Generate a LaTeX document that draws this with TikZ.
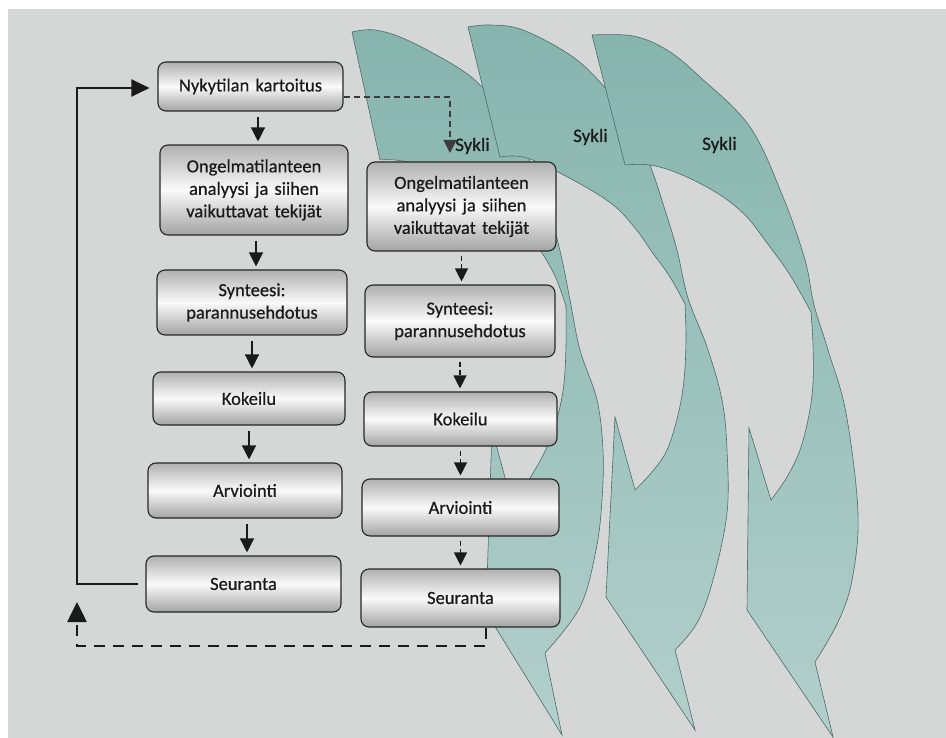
\documentclass[tikz,border=0pt]{standalone}
\usepackage{fontspec}
\setmainfont{Carlito}[FakeBold=0.6]
\usetikzlibrary{arrows.meta,calc}
\definecolor{page}{HTML}{D5D7D7}
\definecolor{cyctop}{HTML}{86B5AE}
\definecolor{cycbot}{HTML}{B2CFCB}
\definecolor{cycedge}{HTML}{4E6A67}
\definecolor{ink}{HTML}{1A1A1A}
\begin{document}
\begin{tikzpicture}[x=1pt,y=-1pt,
  cycshape/.style={draw=cycedge, line width=0.6pt, top color=cyctop, bottom color=cycbot, line join=miter},
  box/.style={draw=black!85, line width=1.1pt, rounded corners=8pt,
    top color=gray!62, bottom color=gray!72, middle color=gray!4,
    align=center, text=ink, inner sep=0pt, text width=182pt,
    font=\fontsize{18.5}{22.5}\selectfont},
  syk/.style={text=ink, inner sep=0pt, font=\fontsize{19}{22}\selectfont},
  arr/.style={draw=ink, line width=1.3pt, -{Triangle[length=14pt,width=14pt]}, shorten <=5pt, shorten >=3pt},
  darr/.style={draw=ink, line width=1.2pt, dash pattern=on 5pt off 3pt, -{Triangle[length=13pt,width=13pt]}, shorten <=4pt, shorten >=3pt},
  sdash/.style={draw=ink!85, line width=1.1pt, dash pattern=on 6pt off 4pt, -{Triangle[length=13pt,width=13pt]}},
  fb/.style={draw=ink, line width=2.3pt, -{Triangle[length=18pt,width=17pt]}},
  ret/.style={draw=ink, line width=2.6pt, dash pattern=on 11pt off 8pt, -{Triangle[length=20pt,width=19pt]}}
]
\useasboundingbox (0,0) rectangle (946,738);
% page
\fill[page] (0,0) rectangle (946,738);
\fill[white] (0,0) rectangle (946,9);
\fill[white] (0,0) rectangle (8,738);

% cycle shapes
\path[cycshape] (352,32) -- plot[smooth, tension=0.6] coordinates {(352,32) (375,30) (407,40) (457,67) (483,88) (510,122) (532,166) (549,210) (561,255) (570,300) (580,350) (597,400) (603,450) (602,500) (596,550) (580,607) (545,653)}
  -- (562,735) -- (486,612) -- (492,430) -- (512,503)
  -- plot[smooth, tension=0.6] coordinates {(512,503) (530,478) (547,447) (558,415) (564,383) (566,345) (566,306)}
  -- plot[smooth, tension=0.6] coordinates {(566,306) (555,276) (540,250) (522,226) (495,203) (452,180) (407,162) (380,160)}
  -- cycle;
\path[cycshape] (468,27) -- plot[smooth, tension=0.6] coordinates {(468,27) (490,25) (523,30) (573,57) (607,90) (632,125) (650,165) (665,210) (677,250) (688,298) (707,347) (722,400) (727,450) (727,513) (713,580) (697,623) (675,650)}
  -- (695,730) -- (606,597) -- (615,417) -- (635,490)
  -- plot[smooth, tension=0.6] coordinates {(635,490) (652,472) (667,450) (678,415) (684,380) (686,340) (685,304)}
  -- plot[smooth, tension=0.6] coordinates {(685,304) (670,277) (652,252) (635,228) (612,204) (573,180) (527,158) (500,157)}
  -- cycle;
\path[cycshape] (592,35) -- plot[smooth, tension=0.6] coordinates {(592,35) (633,36) (667,50) (700,77) (750,127) (783,197) (805,260) (814,305) (828,350) (846,413) (858,513) (852,580) (838,622) (815,662)}
  -- (833,737) -- (747,610) -- (749,428) -- (771,500)
  -- plot[smooth, tension=0.6] coordinates {(771,500) (787,477) (800,450) (809,415) (813,383) (813,345) (811,312)}
  -- plot[smooth, tension=0.6] coordinates {(811,312) (790,275) (767,243) (745,215) (717,193) (680,174) (650,165) (625,165)}
  -- cycle;

% labels on the cycles
\node[syk, anchor=base west] (sy1) at (455,151) {Sykli};
\node[syk, anchor=base west] (sy2) at (573,142) {Sykli};
\node[syk, anchor=base west] (sy3) at (702,150) {Sykli};

% left column
\node[box, minimum width=185pt, minimum height=49pt] (L1) at (250.5,86.5) {Nykytilan kartoitus};
\node[box, minimum width=188pt, minimum height=90pt] (L2) at (254,190) {Ongelmatilanteen\\analyysi ja siihen\\vaikuttavat tekijät};
\node[box, minimum width=190pt, minimum height=65pt] (L3) at (252,302.5) {Synteesi:\\parannusehdotus};
\node[box, minimum width=192pt, minimum height=53pt] (L4) at (249,398.5) {Kokeilu};
\node[box, minimum width=194pt, minimum height=55pt] (L5) at (245,490.5) {Arviointi};
\node[box, minimum width=195pt, minimum height=56pt] (L6) at (243.5,584) {Seuranta};

% right column
\node[box, minimum width=189pt, minimum height=89pt] (R2) at (461.5,206.5) {Ongelmatilanteen\\analyysi ja siihen\\vaikuttavat tekijät};
\node[box, minimum width=190pt, minimum height=72pt] (R3) at (460,321) {Synteesi:\\parannusehdotus};
\node[box, minimum width=193pt, minimum height=54pt] (R4) at (460.5,419) {Kokeilu};
\node[box, minimum width=197pt, minimum height=57pt] (R5) at (460.5,507.5) {Arviointi};
\node[box, minimum width=199pt, minimum height=58pt] (R6) at (460.5,598) {Seuranta};

% left arrows
\draw[arr] ([xshift=7.5pt]L1.south) -- ([xshift=4pt]L2.north);
\draw[arr] ([xshift=2pt]L2.south) -- ([xshift=4pt]L3.north);
\draw[arr] (L3.south) -- ([xshift=3pt]L4.north);
\draw[arr] (L4.south) -- ([xshift=4pt]L5.north);
\draw[arr] ([xshift=2pt]L5.south) -- ([xshift=3.5pt]L6.north);

% right arrows
\draw[darr] (R2.south) -- (R2.south |- R3.north);
\draw[darr] (R3.south) -- (R3.south |- R4.north);
\draw[darr] (R4.south) -- (R4.south |- R5.north);
\draw[darr] (R5.south) -- (R5.south |- R6.north);

% dashed link to the cycle
\coordinate (s1) at (450,153);
\draw[sdash] ([yshift=-10.5pt]L1.east) -| (s1);

% feedback loop
\coordinate (fbx) at (77,300);
\draw[fb] ([xshift=-7pt]L6.west) -| (fbx) |- ([xshift=-8pt,yshift=-1.5pt]L1.west);

% dashed return
\coordinate (rb) at (77,646);
\coordinate (rt) at (77,602);
\draw[ret] ([xshift=25.5pt]R6.south) |- (rb) -- (rt);
\end{tikzpicture}
\end{document}
